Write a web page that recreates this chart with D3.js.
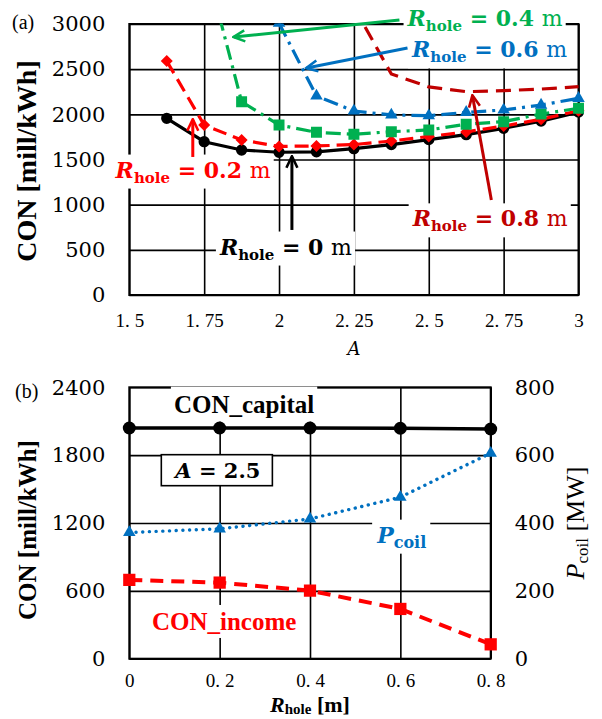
<!DOCTYPE html>
<html>
<head>
<meta charset="utf-8">
<script src="https://cdn.jsdelivr.net/npm/d3@7"></script>
<style>
  body { margin: 0; background: #fff; }
  svg { display: block; }
</style>
</head>
<body>
<svg id="chart" width="602" height="719"></svg>
<script>
// ---------- Panel (a): CON versus aspect ratio A ----------
const aTicks = [1.5, 1.75, 2, 2.25, 2.5, 2.75, 3];
const conTicksA = [0, 500, 1000, 1500, 2000, 2500, 3000];

const aR00 = [1.625, 1.75, 1.875, 2.0, 2.125, 2.25, 2.375, 2.5, 2.625, 2.75, 2.875, 3.0];
const conR00 = [1956, 1697, 1605, 1580, 1585, 1620, 1665, 1720, 1775, 1845, 1925, 2025];

const aR02 = [1.625, 1.75, 1.875, 2.0, 2.125, 2.25, 2.375, 2.5, 2.625, 2.75, 2.875, 3.0];
const conR02 = [2590, 1882, 1716, 1645, 1650, 1665, 1705, 1755, 1805, 1870, 1945, 2040];

const aR04 = [1.75, 1.875, 2.0, 2.125, 2.25, 2.375, 2.5, 2.625, 2.75, 2.875, 3.0];
const conR04 = [3730, 2140, 1882, 1801, 1779, 1808, 1827, 1890, 1919, 2004, 2067];

const aR06 = [2.0, 2.125, 2.25, 2.375, 2.5, 2.625, 2.75, 2.875, 3.0];
const conR06 = [3010, 2203, 2037, 1993, 1985, 2022, 2048, 2103, 2177];

const aR08 = [2.25, 2.375, 2.5, 2.625, 2.75, 2.875, 3.0];
const conR08 = [3190, 2446, 2303, 2251, 2262, 2280, 2306];

// ---------- Panel (b): CON and P_coil versus R_hole at A = 2.5 ----------
const rTicks = [0, 0.2, 0.4, 0.6, 0.8];
const conTicksB = [0, 600, 1200, 1800, 2400];
const pTicks = [0, 200, 400, 600, 800];

const rHole = [0, 0.2, 0.4, 0.6, 0.8];
const conCapital = [2040, 2040, 2040, 2038, 2031];
const conIncome = [697, 673, 602, 440, 127];
const pCoil = [372, 383, 412, 476, 606];

// ---------- shared setup ----------
const svg = d3.select('#chart');
const serif = '"Liberation Serif", "Times New Roman", serif';
const numFont = '"DejaVu Serif", serif';
const C = { black: '#000', red: '#ff0000', green: '#00b050', blue: '#0070c0', dred: '#c00000' };
const defs = svg.append('defs');
const plain = d => String(d);

function arrowMarker(id, color) {
  defs.append('marker')
    .attr('id', id).attr('viewBox', '0 0 14 14')
    .attr('refX', 12).attr('refY', 7)
    .attr('markerWidth', 14).attr('markerHeight', 14)
    .attr('markerUnits', 'userSpaceOnUse').attr('orient', 'auto')
    .append('path').attr('d', 'M1,1.5 L12.5,7 L1,12.5')
    .attr('fill', 'none').attr('stroke', color)
    .attr('stroke-width', 2.6).attr('stroke-linejoin', 'miter');
}
Object.entries(C).forEach(([k, c]) => arrowMarker('arr-' + k, c));

// a rich text label made of runs: {t, i (italic), b (bold), sub}
function richText(g, x, y, runs, o) {
  const t = g.append('text').attr('x', x).attr('y', y)
    .attr('text-anchor', o.anchor || 'middle')
    .attr('font-family', o.font).attr('font-size', o.size)
    .attr('fill', o.color);
  let shifted = 0;
  runs.forEach(r => {
    const s = t.append('tspan').text(r.t)
      .attr('font-weight', r.b === false ? 'normal' : (o.bold ? 'bold' : 'normal'))
      .attr('font-style', r.i ? 'italic' : 'normal');
    if (r.sub) {
      s.attr('font-size', o.subSize).attr('dy', o.subShift);
      shifted = o.subShift;
    } else if (shifted) {
      s.attr('dy', -shifted);
      shifted = 0;
    }
  });
  return t;
}

// white background behind a text element
function backdrop(g, textSel, px, py) {
  const b = textSel.node().getBBox();
  g.insert('rect', () => textSel.node())
    .attr('x', b.x - px).attr('y', b.y - py)
    .attr('width', b.width + 2 * px).attr('height', b.height + 2 * py)
    .attr('fill', '#fff');
}

// tick labels with a wide gap after the decimal point
function spacedDecimals(sel) {
  sel.each(function (d) {
    const s = String(d);
    const i = s.indexOf('.');
    if (i < 0) return;
    const t = d3.select(this).text(null);
    t.append('tspan').text(s.slice(0, i + 1));
    t.append('tspan').attr('dx', 5).text(s.slice(i + 1));
  });
}

function pts(xs, ys) { return xs.map((x, i) => [x, ys[i]]); }

// =====================================================================
// Panel (a)
// =====================================================================
const pa = { left: 129.3, right: 578.5, top: 24, bottom: 295 };
const xA = d3.scaleLinear().domain([1.5, 3]).range([pa.left, pa.right]);
const yA = d3.scaleLinear().domain([0, 3000]).range([pa.bottom, pa.top]);
const gA = svg.append('g');

// grid
gA.append('g').attr('transform', `translate(0,${pa.bottom})`)
  .call(d3.axisBottom(xA).tickValues(aTicks).tickSize(-(pa.bottom - pa.top)).tickFormat(''))
  .call(g => g.select('.domain').remove())
  .selectAll('line').attr('stroke', '#000').attr('stroke-width', 1.6);
gA.append('g').attr('transform', `translate(${pa.left},0)`)
  .call(d3.axisLeft(yA).tickValues(conTicksA).tickSize(-(pa.right - pa.left)).tickFormat(''))
  .call(g => g.select('.domain').remove())
  .selectAll('line').attr('stroke', '#000').attr('stroke-width', 1.6);
gA.append('rect').attr('x', pa.left).attr('y', pa.top)
  .attr('width', pa.right - pa.left).attr('height', pa.bottom - pa.top)
  .attr('fill', 'none').attr('stroke', '#000').attr('stroke-width', 2);

// tick labels
gA.append('g').attr('transform', `translate(${pa.left},0)`)
  .call(d3.axisLeft(yA).tickValues(conTicksA).tickSize(0).tickPadding(24).tickFormat(plain))
  .call(g => g.select('.domain').remove())
  .selectAll('text').attr('font-family', numFont).attr('font-size', 21).attr('fill', '#000');
gA.append('g').attr('transform', `translate(0,${pa.bottom})`)
  .call(d3.axisBottom(xA).tickValues(aTicks).tickSize(0).tickPadding(18.5).tickFormat(plain))
  .call(g => g.select('.domain').remove())
  .selectAll('text').attr('font-family', serif).attr('font-size', 19).attr('fill', '#000')
  .call(spacedDecimals);

// axis titles
svg.append('text').attr('transform', 'translate(36,161) rotate(-90)')
  .attr('text-anchor', 'middle').attr('font-family', serif).attr('font-weight', 'bold')
  .attr('font-size', 28).text('CON [mill/kWh]');
svg.append('text').attr('x', 354).attr('y', 355).attr('text-anchor', 'middle')
  .attr('font-family', numFont).attr('font-style', 'italic').attr('font-size', 18).text('A');
svg.append('text').attr('x', 12).attr('y', 29).attr('font-family', serif)
  .attr('font-size', 20).text('(a)');

// labels (backdrops hide the grid behind them)
const labA = svg.append('g');
const labelFont = { font: numFont, size: 22, subSize: 15, subShift: 5, bold: true };
const labelsA = [
  { v: '0.4', color: C.green, a: 2.688, c: 2978 },
  { v: '0.6', color: C.blue, a: 2.703, c: 2630 },
  { v: '0.2', color: C.red, a: 1.713, c: 1300 },
  { v: '0', color: C.black, a: 2.023, c: 448 },
  { v: '0.8', color: C.dred, a: 2.705, c: 760 }
];
labelsA.forEach(l => {
  const t = richText(labA, xA(l.a), yA(l.c),
    [{ t: 'R', i: true }, { t: 'hole', sub: true }, { t: ' = ' + l.v + ' ' }, { t: 'm', b: false }],
    Object.assign({ color: l.color }, labelFont));
  backdrop(labA, t, 3, 2);
});

// series lines and markers
const clipA = defs.append('clipPath').attr('id', 'clipA');
clipA.append('rect').attr('x', pa.left - 8).attr('y', pa.top - 0.5)
  .attr('width', pa.right - pa.left + 16).attr('height', pa.bottom - pa.top + 8);
const dataA = svg.append('g').attr('clip-path', 'url(#clipA)');
const lineA = d3.line().x(d => xA(d[0])).y(d => yA(d[1]));

const seriesA = [
  { data: pts(aR00, conR00), color: C.black, dash: null, sym: d3.symbolCircle, size: 100 },
  { data: pts(aR02, conR02), color: C.red, dash: '14,7', sym: d3.symbolSquare, size: 72, rot: 45 },
  { data: pts(aR04, conR04), color: C.green, dash: '15,6,3,6', sym: d3.symbolSquare, size: 120 },
  { data: pts(aR06, conR06), color: C.blue, dash: '15,6,3,6', sym: d3.symbolTriangle, size: 68 },
  { data: pts(aR08, conR08), color: C.dred, dash: '15,8', sym: null }
];
seriesA.forEach(s => {
  dataA.append('path').attr('d', lineA(s.data)).attr('fill', 'none')
    .attr('stroke', s.color).attr('stroke-width', 3.2)
    .attr('stroke-dasharray', s.dash);
  if (s.sym) {
    dataA.selectAll(null).data(s.data).join('path')
      .attr('transform', d => `translate(${xA(d[0])},${yA(d[1])}) rotate(${s.rot || 0})`)
      .attr('d', d3.symbol(s.sym, s.size)).attr('fill', s.color);
  }
});

// arrows from labels to curves
const arrowsA = [
  { k: 'green', from: [2.402, 3044], to: [1.849, 2856] },
  { k: 'blue', from: [2.429, 2734], to: [2.092, 2513] },
  { k: 'red', from: [1.712, 1528], to: [1.712, 1940] },
  { k: 'black', from: [2.043, 720], to: [2.043, 1530] },
  { k: 'dred', from: [2.709, 1052], to: [2.646, 2205] }
];
arrowsA.forEach(a => {
  svg.append('line')
    .attr('x1', xA(a.from[0])).attr('y1', yA(a.from[1]))
    .attr('x2', xA(a.to[0])).attr('y2', yA(a.to[1]))
    .attr('stroke', C[a.k]).attr('stroke-width', 3)
    .attr('marker-end', `url(#arr-${a.k})`);
});

// =====================================================================
// Panel (b)
// =====================================================================
const pb = { left: 129.3, right: 490.7, top: 387.3, bottom: 658.7 };
const xB = d3.scaleLinear().domain([0, 0.8]).range([pb.left, pb.right]);
const yB = d3.scaleLinear().domain([0, 2400]).range([pb.bottom, pb.top]);
const yP = d3.scaleLinear().domain([0, 800]).range([pb.bottom, pb.top]);
const gB = svg.append('g');

gB.append('g').attr('transform', `translate(0,${pb.bottom})`)
  .call(d3.axisBottom(xB).tickValues(rTicks).tickSize(-(pb.bottom - pb.top)).tickFormat(''))
  .call(g => g.select('.domain').remove())
  .selectAll('line').attr('stroke', '#000').attr('stroke-width', 1.6);
gB.append('g').attr('transform', `translate(${pb.left},0)`)
  .call(d3.axisLeft(yB).tickValues(conTicksB).tickSize(-(pb.right - pb.left)).tickFormat(''))
  .call(g => g.select('.domain').remove())
  .selectAll('line').attr('stroke', '#000').attr('stroke-width', 1.6);
gB.append('rect').attr('x', pb.left).attr('y', pb.top)
  .attr('width', pb.right - pb.left).attr('height', pb.bottom - pb.top)
  .attr('fill', 'none').attr('stroke', '#000').attr('stroke-width', 2);

gB.append('g').attr('transform', `translate(${pb.left},0)`)
  .call(d3.axisLeft(yB).tickValues(conTicksB).tickSize(0).tickPadding(24).tickFormat(plain))
  .call(g => g.select('.domain').remove())
  .selectAll('text').attr('font-family', numFont).attr('font-size', 21).attr('fill', '#000');
gB.append('g').attr('transform', `translate(${pb.right},0)`)
  .call(d3.axisRight(yP).tickValues(pTicks).tickSize(0).tickPadding(24).tickFormat(plain))
  .call(g => g.select('.domain').remove())
  .selectAll('text').attr('font-family', numFont).attr('font-size', 21).attr('fill', '#000');
gB.append('g').attr('transform', `translate(0,${pb.bottom})`)
  .call(d3.axisBottom(xB).tickValues(rTicks).tickSize(0).tickPadding(15).tickFormat(plain))
  .call(g => g.select('.domain').remove())
  .selectAll('text').attr('font-family', serif).attr('font-size', 19).attr('fill', '#000')
  .call(spacedDecimals);

// axis titles
svg.append('text').attr('transform', 'translate(36,530) rotate(-90)')
  .attr('text-anchor', 'middle').attr('font-family', serif).attr('font-weight', 'bold')
  .attr('font-size', 25).text('CON [mill/kWh]');
richText(svg.append('g').attr('transform', 'translate(584,523) rotate(-90)'), 0, 0,
  [{ t: 'P', i: true }, { t: 'coil', sub: true }, { t: ' [MW]' }],
  { font: serif, size: 26, subSize: 17, subShift: 4, bold: false, color: '#000' });
richText(svg, 310, 712,
  [{ t: 'R', i: true }, { t: 'hole', sub: true }, { t: ' [m]' }],
  { font: serif, size: 22, subSize: 15, subShift: 2, bold: true, color: '#000' });
svg.append('text').attr('x', 15).attr('y', 398).attr('font-family', serif)
  .attr('font-size', 20).text('(b)');

// labels
const labB = svg.append('g');
const capT = labB.append('text').attr('x', xB(0.254)).attr('y', yB(2176))
  .attr('text-anchor', 'middle').attr('font-family', serif).attr('font-weight', 'bold')
  .attr('font-size', 25).text('CON_capital');
backdrop(labB, capT, 3, 4);
const incT = labB.append('text').attr('x', xB(0.21)).attr('y', yB(254))
  .attr('text-anchor', 'middle').attr('font-family', serif).attr('font-weight', 'bold')
  .attr('font-size', 25).attr('fill', C.red).text('CON_income');
backdrop(labB, incT, 3, 3);
const pT = richText(labB, xB(0.603), yP(342),
  [{ t: 'P', i: true }, { t: 'coil', sub: true }],
  { font: numFont, size: 22, subSize: 16, subShift: 5, bold: true, color: C.blue });
backdrop(labB, pT, 4, 2);
const aT = richText(labB, xB(0.196), yB(1667) + 8,
  [{ t: 'A', i: true }, { t: ' = 2.5' }],
  { font: numFont, size: 21, subSize: 14, subShift: 4, bold: true, color: '#000' });
{
  const b = aT.node().getBBox();
  labB.insert('rect', () => aT.node())
    .attr('x', b.x - 12).attr('y', yB(1667) - 15.5)
    .attr('width', b.width + 24).attr('height', 31)
    .attr('fill', '#fff').attr('stroke', '#000').attr('stroke-width', 1.6);
}

// series
const dataB = svg.append('g');
const capPts = pts(rHole, conCapital);
const incPts = pts(rHole, conIncome);
const coilPts = pts(rHole, pCoil);

dataB.append('path').attr('d', d3.line().x(d => xB(d[0])).y(d => yB(d[1]))(capPts))
  .attr('fill', 'none').attr('stroke', '#000').attr('stroke-width', 3.5);
dataB.selectAll(null).data(capPts).join('circle')
  .attr('cx', d => xB(d[0])).attr('cy', d => yB(d[1])).attr('r', 6.5).attr('fill', '#000');

dataB.append('path').attr('d', d3.line().x(d => xB(d[0])).y(d => yP(d[1]))(coilPts))
  .attr('fill', 'none').attr('stroke', C.blue).attr('stroke-width', 3.4)
  .attr('stroke-linecap', 'round').attr('stroke-dasharray', '0.1,6.6');
dataB.selectAll(null).data(coilPts).join('path')
  .attr('transform', d => `translate(${xB(d[0])},${yP(d[1])})`)
  .attr('d', d3.symbol(d3.symbolTriangle, 68)).attr('fill', C.blue);

dataB.append('path').attr('d', d3.line().x(d => xB(d[0])).y(d => yB(d[1]))(incPts))
  .attr('fill', 'none').attr('stroke', C.red).attr('stroke-width', 4)
  .attr('stroke-dasharray', '13,8');
dataB.selectAll(null).data(incPts).join('path')
  .attr('transform', d => `translate(${xB(d[0])},${yB(d[1])})`)
  .attr('d', d3.symbol(d3.symbolSquare, 150)).attr('fill', C.red);
</script>
</body>
</html>
